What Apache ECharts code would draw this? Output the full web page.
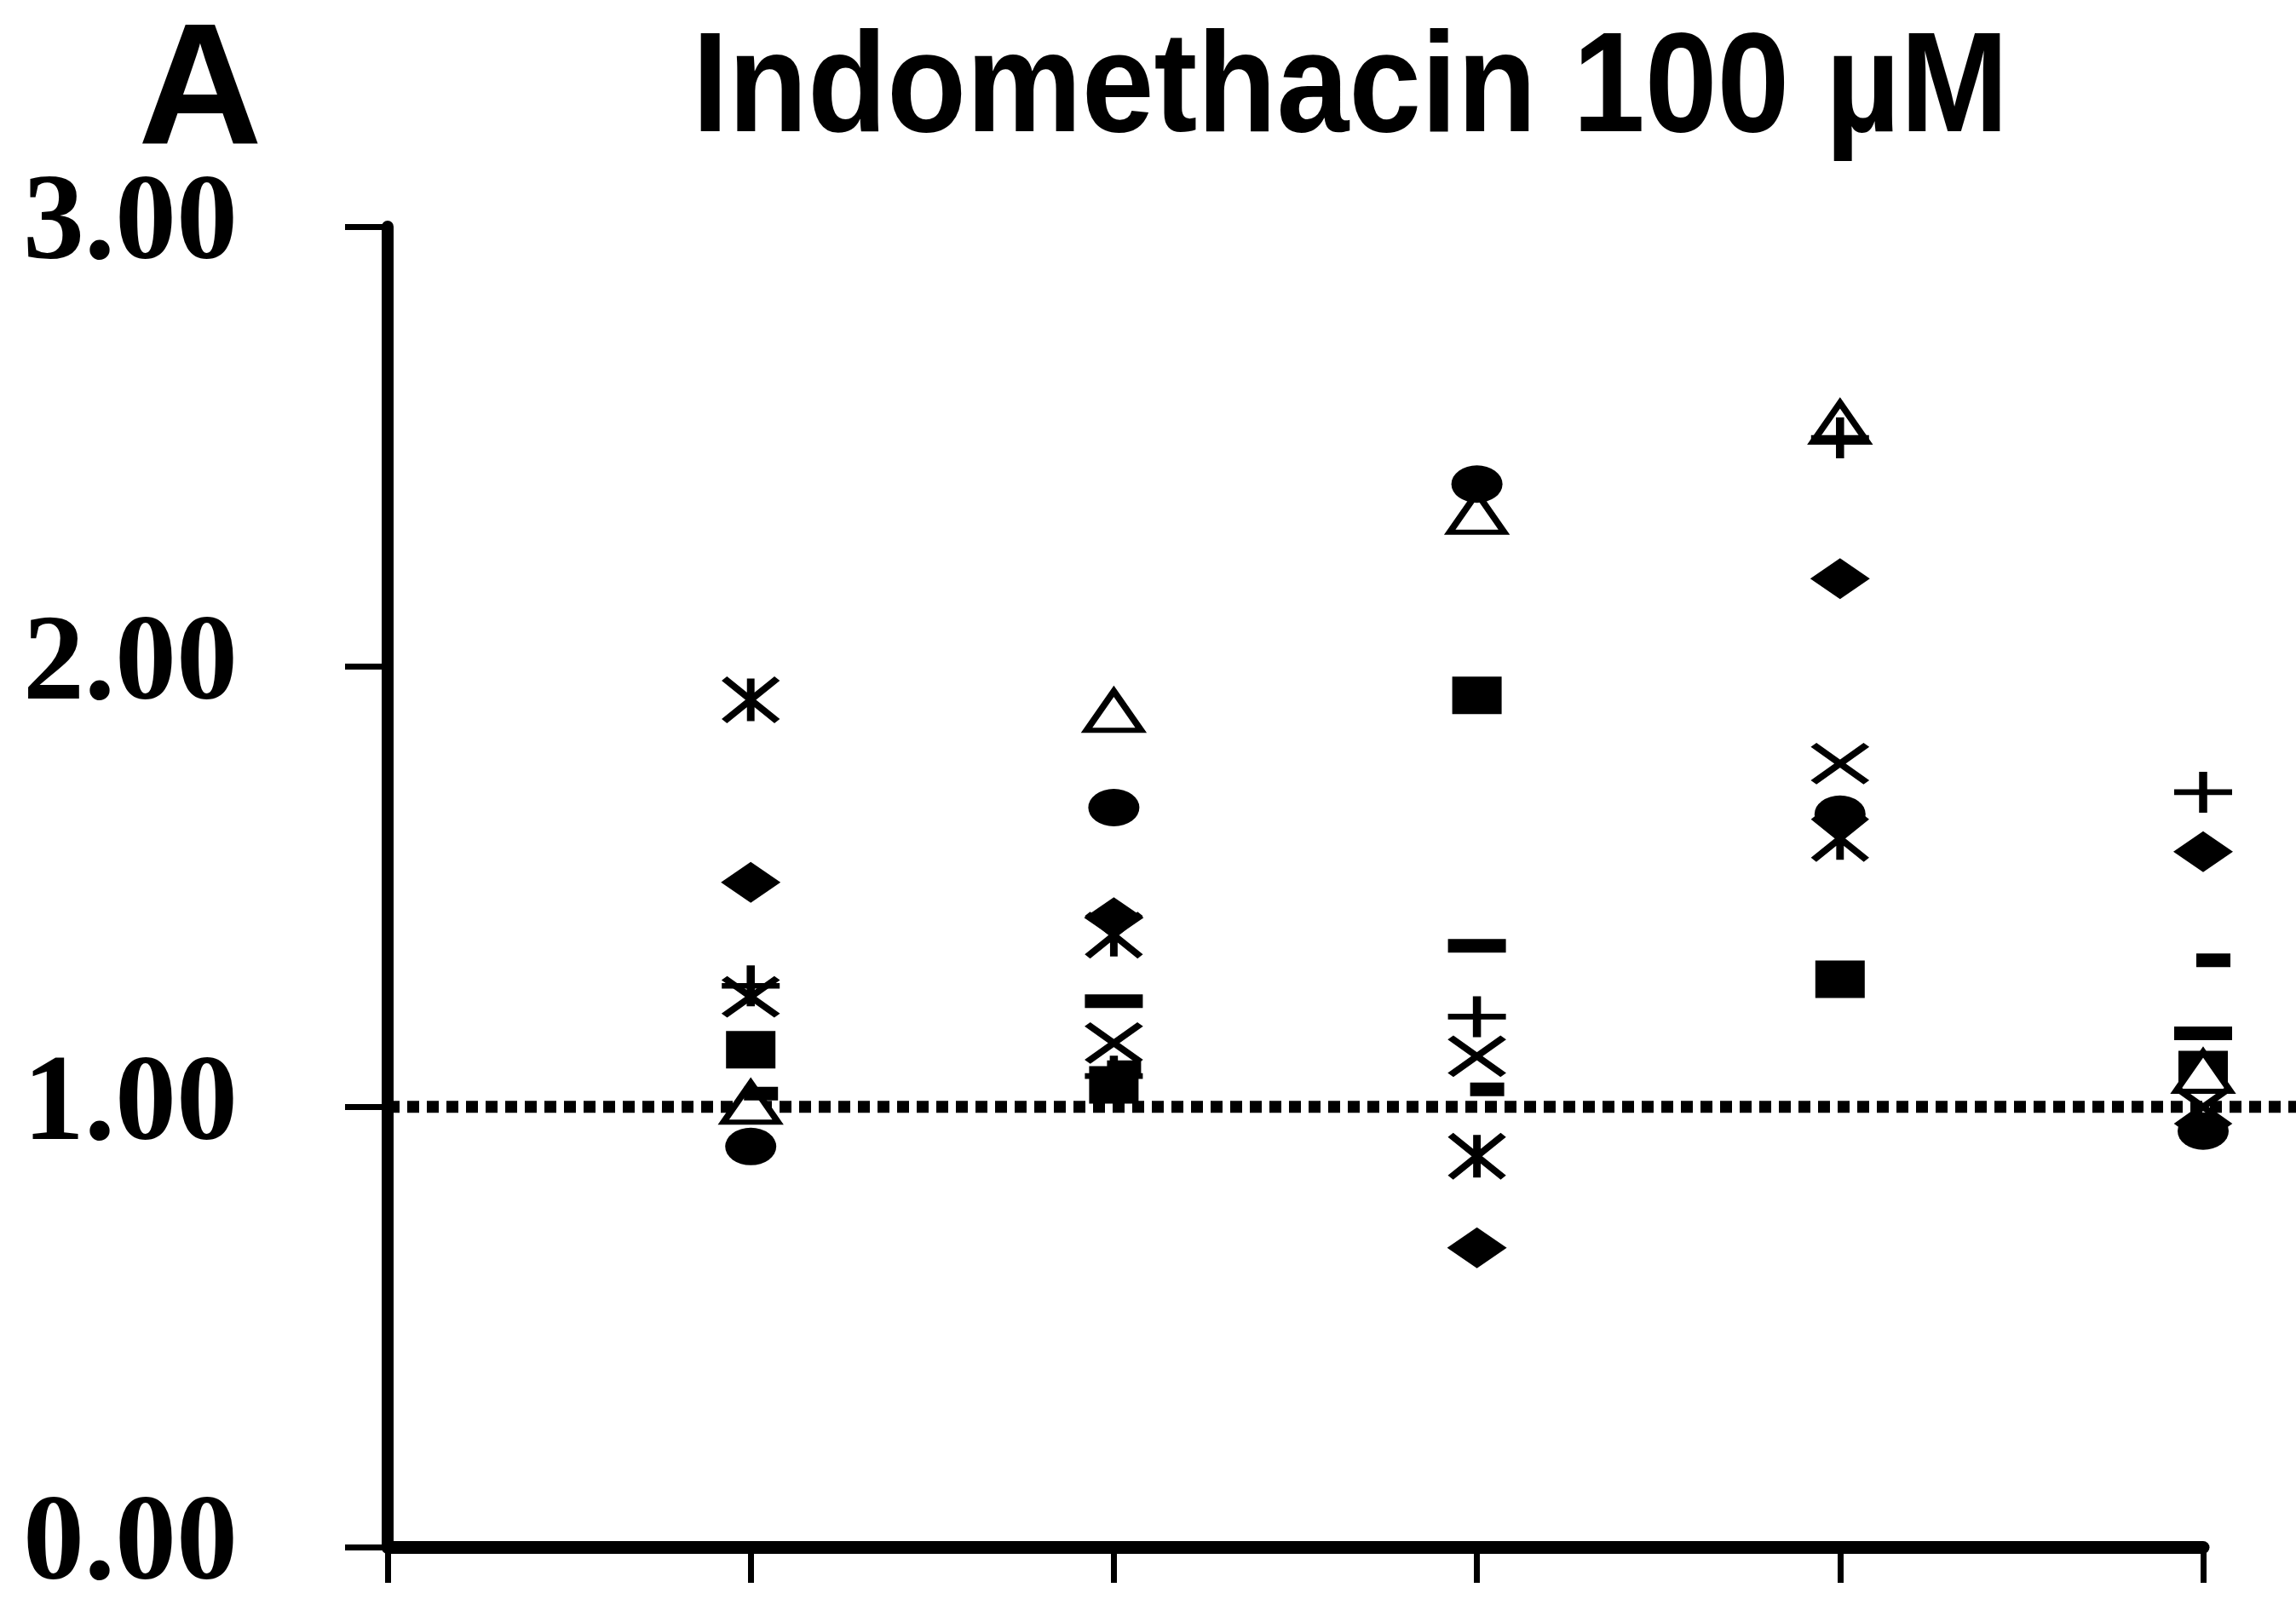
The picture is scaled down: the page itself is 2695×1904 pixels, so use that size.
<!DOCTYPE html>
<html>
<head>
<meta charset="utf-8">
<script src="https://cdn.jsdelivr.net/npm/echarts@6/dist/echarts.min.js"></script>
<style>
  html, body { margin: 0; padding: 0; background: #fff; }
  #chart { width: 2695px; height: 1904px; }
</style>
</head>
<body>
<div id="chart"></div>
<script>
// columns 1..5 on the x axis (no labels in the figure)
const xPos = [1, 2, 3, 4, 5];
const yTicks = [0, 1, 2, 3];
const refLevel = 1;

// one array per marker series
const diamondVals   = [1.51, 1.43, 0.68, 2.20, 1.58];
const squareVals    = [1.13, 1.05, 1.935, 1.29, 1.085];
const triangleVals  = [1.01, 1.90, 2.35, 2.555, 1.08];
const crossVals     = [1.25, 1.145, 1.115, 1.78, 1.00];
const starVals      = [1.925, 1.39, 0.888, 1.61, null];
const circleVals    = [0.91, 1.68, 2.415, 1.665, 0.945];
const plusVals      = [1.275, 1.07, 1.205, 2.52, 1.715];
const longDashVals  = [null, 1.24, 1.366, null, 1.167];
const shortDashVals = [1.03, 1.09, 1.04, null, 1.333];

const titleText = 'Indomethacin 100 µM';
const panelText = 'A';

const chart = echarts.init(document.getElementById('chart'));

const toData = vals => xPos.map((x, i) => [x, vals[i]]).filter(d => d[1] != null);

const filled  = { color: '#000', borderWidth: 0, opacity: 1 };
const hollow  = { color: '#fff', borderColor: '#000', borderWidth: 7, opacity: 1 };
const stroked = { color: 'none', borderColor: '#000', borderWidth: 8, opacity: 1 };

function marker(name, vals, symbol, size, style, offset) {
  return {
    type: 'scatter', name, symbol, symbolSize: size,
    symbolOffset: offset || [0, 0],
    data: toData(vals),
    itemStyle: style,
    silent: true,
    animation: false
  };
}

const G = { left: 455, right: 109, top: 266, bottom: 88 };

chart.setOption({
  backgroundColor: '#fff',
  animation: false,
  grid: [
    { left: G.left, right: G.right, top: G.top, bottom: G.bottom },
    { left: G.left, right: 0, top: G.top, bottom: G.bottom }
  ],
  xAxis: [
    {
      type: 'value', min: 0, max: 5, interval: 1, gridIndex: 0,
      axisLine: { show: true, lineStyle: { color: '#000', width: 15 } },
      axisTick: { show: true, inside: false, length: 42, lineStyle: { color: '#000', width: 7 } },
      axisLabel: { show: false },
      splitLine: { show: false }
    },
    { type: 'value', min: 0, max: 1, gridIndex: 1, show: false }
  ],
  yAxis: [
    {
      type: 'value', min: yTicks[0], max: yTicks[yTicks.length - 1], interval: 1, gridIndex: 0,
      axisLine: { show: true, lineStyle: { color: '#000', width: 14 } },
      axisTick: { show: true, length: 50, lineStyle: { color: '#000', width: 7 } },
      axisLabel: {
        margin: 176,
        formatter: v => v.toFixed(2),
        fontFamily: '"Liberation Serif", "Times New Roman", serif',
        fontWeight: 'bold', fontSize: 144, color: '#000'
      },
      splitLine: { show: false }
    },
    { type: 'value', min: yTicks[0], max: yTicks[yTicks.length - 1], gridIndex: 1, show: false }
  ],
  graphic: [
    {
      type: 'text', x: 235, y: 113,
      style: {
        text: panelText, fill: '#000',
        font: 'bold 202px "Liberation Sans", Arial, sans-serif',
        textAlign: 'center', textVerticalAlign: 'middle'
      }
    },
    {
      type: 'text', x: 1585, y: 108, scaleX: 0.913,
      style: {
        text: titleText, fill: '#000',
        font: 'bold 167px "Liberation Sans", Arial, sans-serif',
        textAlign: 'center', textVerticalAlign: 'middle'
      }
    }
  ],
  series: [
    {
      type: 'line', xAxisIndex: 1, yAxisIndex: 1,
      data: [[0, refLevel], [1, refLevel]],
      symbol: 'none', silent: true, z: 1,
      lineStyle: { color: '#000', width: 14, type: [14, 9], cap: 'butt', opacity: 1 }
    },
    marker('diamond', diamondVals, 'diamond', [70, 48], filled),
    marker('square', squareVals, 'rect', [58, 44], filled),
    marker('triangle', triangleVals, 'triangle', [64, 46], hollow),
    marker('x', crossVals, 'path://M0,0L10,10M10,0L0,10', [62, 44], stroked),
    marker('star', starVals, 'path://M0,0L10,10M10,0L0,10M5,0L5,10', [62, 50], stroked),
    marker('circle', circleVals, 'circle', [60, 44], filled),
    marker('plus', plusVals, 'path://M5,0L5,10M0,5L10,5', [68, 48], stroked),
    marker('long dash', longDashVals, 'rect', [68, 16], filled),
    marker('short dash', shortDashVals, 'rect', [40, 16], filled, [12, 0])
  ]
});
</script>
</body>
</html>
